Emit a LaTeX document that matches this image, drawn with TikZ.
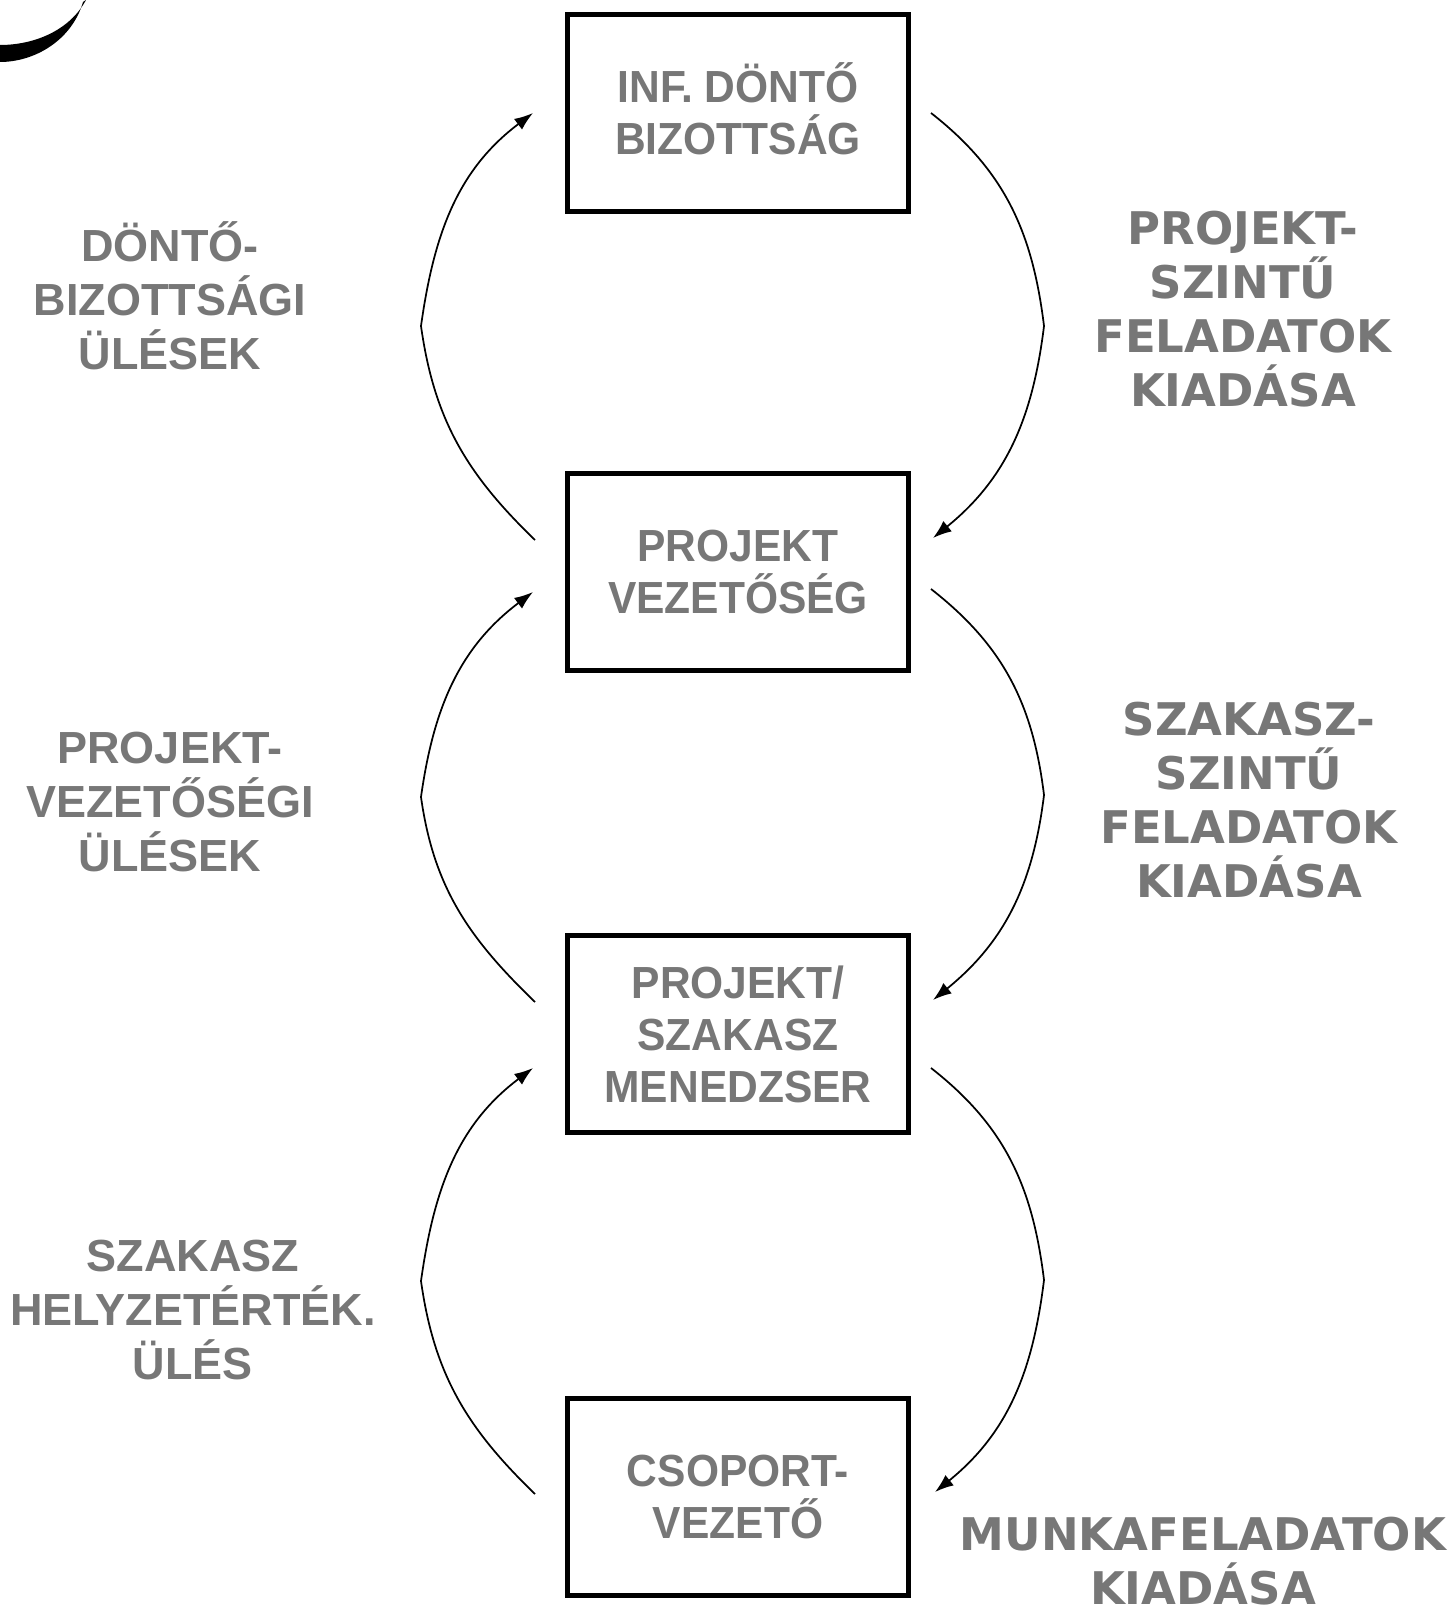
\documentclass[tikz,border=0pt]{standalone}
\usepackage{fontspec}
\usepackage{tikz}
\usetikzlibrary{arrows.meta}
\newfontfamily\boxfont[FakeStretch=0.945]{Liberation Sans Bold}
\newfontfamily\leftfont{Liberation Sans Bold}
\newfontfamily\rightfont{DejaVu Sans Bold}
\definecolor{labelgray}{HTML}{777777}

\begin{document}
\begin{tikzpicture}[x=0.75pt, y=-0.75pt,
  levelbox/.style={draw, line width=4pt, minimum width=256pt, minimum height=148pt, inner sep=0pt, align=center, text=labelgray, font=\boxfont\fontsize{33.75}{39}\selectfont},
  meeting/.style={align=center, text=labelgray, font=\leftfont\fontsize{33.75}{40.5}\selectfont},
  handout/.style={align=center, text=labelgray, font=\rightfont\fontsize{33.75}{40.5}\selectfont},
  loop/.style={line width=1.3pt, -{Latex[length=14pt,width=10pt]}}]
 \useasboundingbox (0,0) rectangle (1453,1608);
 % corner mark
 \fill (0,62) .. controls (35,62) and (72,40) .. (83,2) -- (86,0) .. controls (70,30) and (35,45) .. (0,45) -- cycle;
 % boxes
 \node[levelbox] (board) at (738,113) {INF. D\smash{Ö}NT\smash{Ő}\\BIZOTTSÁG};
 \node[levelbox] (board2) at (738,572) {PROJEKT\\VEZETŐSÉG};
 \node[levelbox] (manager) at (738,1034) {PROJEKT/\\SZAKASZ\\MENEDZSER};
 \node[levelbox] (teamlead) at (738,1497) {CSOPORT-\\VEZETŐ};
 % labels
 \node[meeting] (boardmeet) at (170,300) {D\smash{Ö}NT\smash{Ő}-\\BIZOTTSÁGI\\ÜLÉSEK};
 \node[meeting] (mgmtmeet) at (170,802) {PROJEKT-\\VEZETŐSÉGI\\ÜLÉSEK};
 \node[meeting] (stagemeet) at (193,1310) {SZAKASZ\\HELYZETÉRTÉK.\\ÜLÉS};
 \node[handout] (projtasks) at (1243,309) {PROJEKT-\\SZINTŰ\\FELADATOK\\KIADÁSA};
 \node[handout] (stagetasks) at (1249,800) {SZAKASZ-\\SZINTŰ\\FELADATOK\\KIADÁSA};
 \node[handout] (worktasks) at (1203,1561) {MUNKAFELADATOK\\KIADÁSA};
 % loop ends
 \coordinate (ls1) at (535,540);  \coordinate (lm1) at (421,326);  \coordinate (le1) at (533,113);
 \coordinate (ls2) at (535,1002); \coordinate (lm2) at (421,797);  \coordinate (le2) at (533,592);
 \coordinate (ls3) at (535,1494); \coordinate (lm3) at (421,1281); \coordinate (le3) at (533,1068);
 \coordinate (rs1) at (931,113);  \coordinate (rm1) at (1044,326); \coordinate (re1) at (933,538);
 \coordinate (rs2) at (931,589);  \coordinate (rm2) at (1044,795); \coordinate (re2) at (933,1000);
 \coordinate (rs3) at (931,1068); \coordinate (rm3) at (1044,1280); \coordinate (re3) at (935,1492);
 \foreach \i in {1,2,3} {
  \draw[loop] (ls\i) to[out=136,in=-82] (lm\i) to[out=82,in=217] (le\i);
  \draw[loop] (rs\i) to[out=-38,in=97] (rm\i) to[out=-97,in=39] (re\i);
 }
\end{tikzpicture}
\end{document}
